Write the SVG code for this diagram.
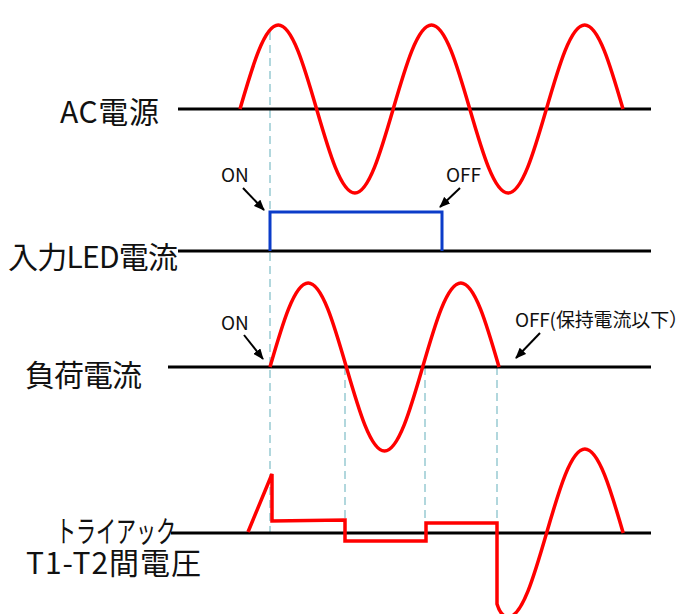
<svg xmlns="http://www.w3.org/2000/svg" width="691" height="614" viewBox="0 0 691 614">
<style>
.lbl{font-family:"Noto Sans CJK JP","Noto Sans",sans-serif;font-size:30px;fill:#111}
.sm{font-family:"Noto Sans CJK JP","Noto Sans",sans-serif;font-size:19px;fill:#111}
.axis{stroke:#000;stroke-width:2.8;fill:none}
.wave{stroke:#ff0000;stroke-width:3.5;fill:none;stroke-linejoin:miter}
.led{stroke:#0b3cc9;stroke-width:3;fill:none}
.guide{stroke:#a9d3da;stroke-width:1.8;stroke-dasharray:8 5;fill:none}
.arr{stroke:#000;stroke-width:2;fill:none;marker-end:url(#ah)}
</style>
<defs>
<marker id="ah" markerUnits="userSpaceOnUse" markerWidth="11" markerHeight="9" refX="10" refY="4.5" orient="auto">
<path d="M0,0 L11,4.5 L0,9 z" fill="#000"/>
</marker>
</defs>
<rect width="691" height="614" fill="#fff"/>

<g id="guides">
<line class="guide" x1="270" y1="32" x2="270" y2="533"/>
<line class="guide" x1="345" y1="367" x2="345" y2="521"/>
<line class="guide" x1="425" y1="367" x2="425" y2="523"/>
<line class="guide" x1="497" y1="367" x2="497" y2="523"/>
</g>

<g id="axes">
<line class="axis" x1="178" y1="109" x2="651" y2="109"/>
<line class="axis" x1="178" y1="251" x2="651" y2="251"/>
<line class="axis" x1="168" y1="367" x2="651" y2="367"/>
<line class="axis" x1="171" y1="533" x2="651" y2="533"/>
</g>

<g id="ac-source">
<text class="lbl" x="60" y="123" textLength="99">AC電源</text>
<path class="wave" d="M240,109 c12.49,-43.03 24.44,-84 38.3,-84 c13.86,0 25.81,40.97 38.3,84 c12.49,43.03 24.44,84 38.3,84 c13.86,0 25.81,-40.97 38.3,-84 c12.49,-43.03 24.44,-84 38.3,-84 c13.86,0 25.81,40.97 38.3,84 c12.49,43.03 24.44,84 38.3,84 c13.86,0 25.81,-40.97 38.3,-84 c12.49,-43.03 24.44,-84 38.3,-84 c13.86,0 25.81,40.97 38.3,84"/>
</g>

<g id="led-current">
<text class="lbl" x="8" y="268" textLength="170">入力LED電流</text>
<path class="led" d="M270,251 L270,212 L442,212 L442,251"/>
</g>

<g id="load-current">
<text class="lbl" x="25" y="386" textLength="117">負荷電流</text>
<path class="wave" d="M270,367 c12.45,-43.03 24.36,-84 38.17,-84 c13.81,0 25.72,40.97 38.17,84 c12.45,43.03 24.36,84 38.17,84 c13.81,0 25.72,-40.97 38.17,-84 c12.45,-43.03 24.36,-84 38.17,-84 c13.81,0 25.72,40.97 38.17,84"/>
</g>

<g id="triac-voltage">
<text class="lbl" x="56" y="542" textLength="120" lengthAdjust="spacingAndGlyphs">トライアック</text>
<text class="lbl" x="26" y="574" textLength="175">T1-T2間電圧</text>
<path class="wave" d="M248,532 L272,474 L272,521 L345,520 L345,541 L426,541 L426,523 L497,523 L497,604 Q501,617 508.3,617 c13.86,0 25.81,-40.97 38.3,-84 c12.49,-43.03 24.44,-84 38.3,-84 c13.86,0 25.81,40.97 38.3,84"/>
</g>

<g id="connectors">
<path class="arr" d="M243,188 L264,210"/>
<path class="arr" d="M460,188 L440,207"/>
<path class="arr" d="M244,335 L263,359"/>
<path class="arr" d="M540,333 L516,358"/>
</g>

<g id="annotations">
<text class="sm" x="221" y="182">ON</text>
<text class="sm" x="446" y="182">OFF</text>
<text class="sm" x="221" y="330">ON</text>
<text class="sm" x="515" y="327" textLength="173">OFF(保持電流以下）</text>
</g>
</svg>
